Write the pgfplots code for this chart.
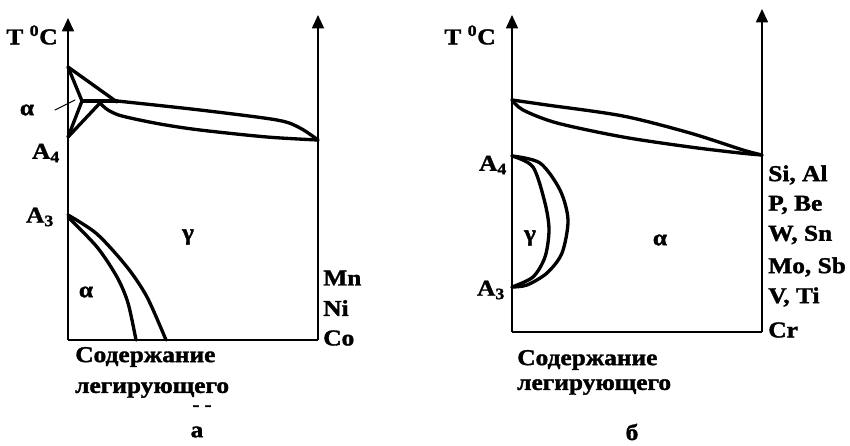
\documentclass[border=0pt]{standalone}
\usepackage{fontspec}
\setmainfont{Liberation Serif}[FakeStretch=1.12, BoldFeatures={FakeBold=1.5}]
\usepackage{pgfplots}
\pgfplotsset{compat=1.18}
\usetikzlibrary{arrows.meta}

\tikzset{
    frame/.style={line width=1.2pt, line cap=butt},
    arr/.style={frame, -{Triangle[width=9pt,length=10pt]}},
    lbl/.style={font=\fontsize{17}{20}\selectfont\bfseries, inner sep=0pt},
}

\begin{document}
\begin{tikzpicture}
\begin{axis}[
    scale only axis,
    width=637.5pt, height=333.75pt,
    xmin=0, xmax=850, ymin=0, ymax=445,
    y dir=reverse,
    hide axis,
    clip=false,
    cycle list={{black}},
    every axis plot/.append style={black, no markers, line width=2.5pt, line join=round, line cap=round},
]
% keeps the page the size of the whole axis
\addplot[draw=none] coordinates {(0,0) (850,445)};
% ---- panel a ----
\addplot[arr] coordinates {(68,340) (68,18)};
\addplot[frame] coordinates {(68,340) (318,340)};
\addplot[arr] coordinates {(318,340) (318,15)};
% delta region and liquidus/solidus
\addplot[black] coordinates {(68,67) (117,102)};
\addplot[black] coordinates {(68,67) (82,101) (68,137)};
\addplot[black] coordinates {(82,101) (117,101)};
\addplot[black] coordinates {(68,137) (100,103)};
\addplot[smooth] coordinates {(117,101) (200,110) (277,120) (300,128) (318,140)};
\addplot[smooth] coordinates {(100,103) (108,110) (122,116) (160,124) (200,130) (267,137) (318,140)};
\addplot[line width=0.7pt] coordinates {(55,110) (75,100)};
% gamma/alpha boundary
\addplot[smooth] coordinates {(68,217) (97,247) (117,277) (128,303) (136,340)};
\addplot[smooth] coordinates {(68,215) (97,234) (127,267) (147,297) (166,340)};

% ---- panel b ----
\addplot[arr] coordinates {(512,332) (512,15)};
\addplot[frame] coordinates {(512,332) (762,332)};
\addplot[arr] coordinates {(762,332) (762,9)};
\addplot[smooth] coordinates {(512,100) (547,105) (623,116) (690,133) (743,150) (762,155)};
\addplot[smooth] coordinates {(512,100) (523,110) (557,123) (623,137) (690,147) (740,153) (762,155)};
% gamma loop
\addplot[smooth] coordinates {(512,156) (533,167) (545,203) (549,230) (545,257) (533,277) (512,287)};
\addplot[smooth] coordinates {(512,156) (540,163) (560,190) (568,220) (562,253) (547,273) (527,285) (512,287)};

% ---- labels a ----
\node[lbl] at (axis cs:32,35) {T \textsuperscript{0}C};
\node[lbl] at (axis cs:27,110) {α};
\node[lbl] at (axis cs:46,153) {A\textsubscript{4}};
\node[lbl] at (axis cs:40,217) {A\textsubscript{3}};
\node[lbl] at (axis cs:188,237) {γ};
\node[lbl] at (axis cs:86,292) {α};
\node[lbl, anchor=west] at (axis cs:323,278) {Mn};
\node[lbl, anchor=west] at (axis cs:323,308) {Ni};
\node[lbl, anchor=west] at (axis cs:323,338) {Co};
\node[lbl, anchor=west] at (axis cs:75,357) {Содержание};
\node[lbl, anchor=west] at (axis cs:75,390) {легирующего};
\node[lbl, font=\fontsize{14}{16}\selectfont\bfseries] at (axis cs:202,408) {- -};
\node[lbl] at (axis cs:197,432) {а};

% ---- labels b ----
\node[lbl] at (axis cs:470,35) {T \textsuperscript{0}C};
\node[lbl] at (axis cs:493,165) {A\textsubscript{4}};
\node[lbl] at (axis cs:491,290) {A\textsubscript{3}};
\node[lbl] at (axis cs:530,238) {γ};
\node[lbl] at (axis cs:660,240) {α};
\node[lbl, anchor=west] at (axis cs:768,175) {Si, Al};
\node[lbl, anchor=west] at (axis cs:768,205) {P, Be};
\node[lbl, anchor=west] at (axis cs:768,235) {W, Sn};
\node[lbl, anchor=west] at (axis cs:768,267) {Mo, Sb};
\node[lbl, anchor=west] at (axis cs:768,297) {V, Ti};
\node[lbl, anchor=west] at (axis cs:768,330) {Cr};
\node[lbl, anchor=west] at (axis cs:517,360) {Содержание};
\node[lbl, anchor=west] at (axis cs:517,387) {легирующего};
\node[lbl] at (axis cs:632,432) {б};
\end{axis}
\end{tikzpicture}
\end{document}
